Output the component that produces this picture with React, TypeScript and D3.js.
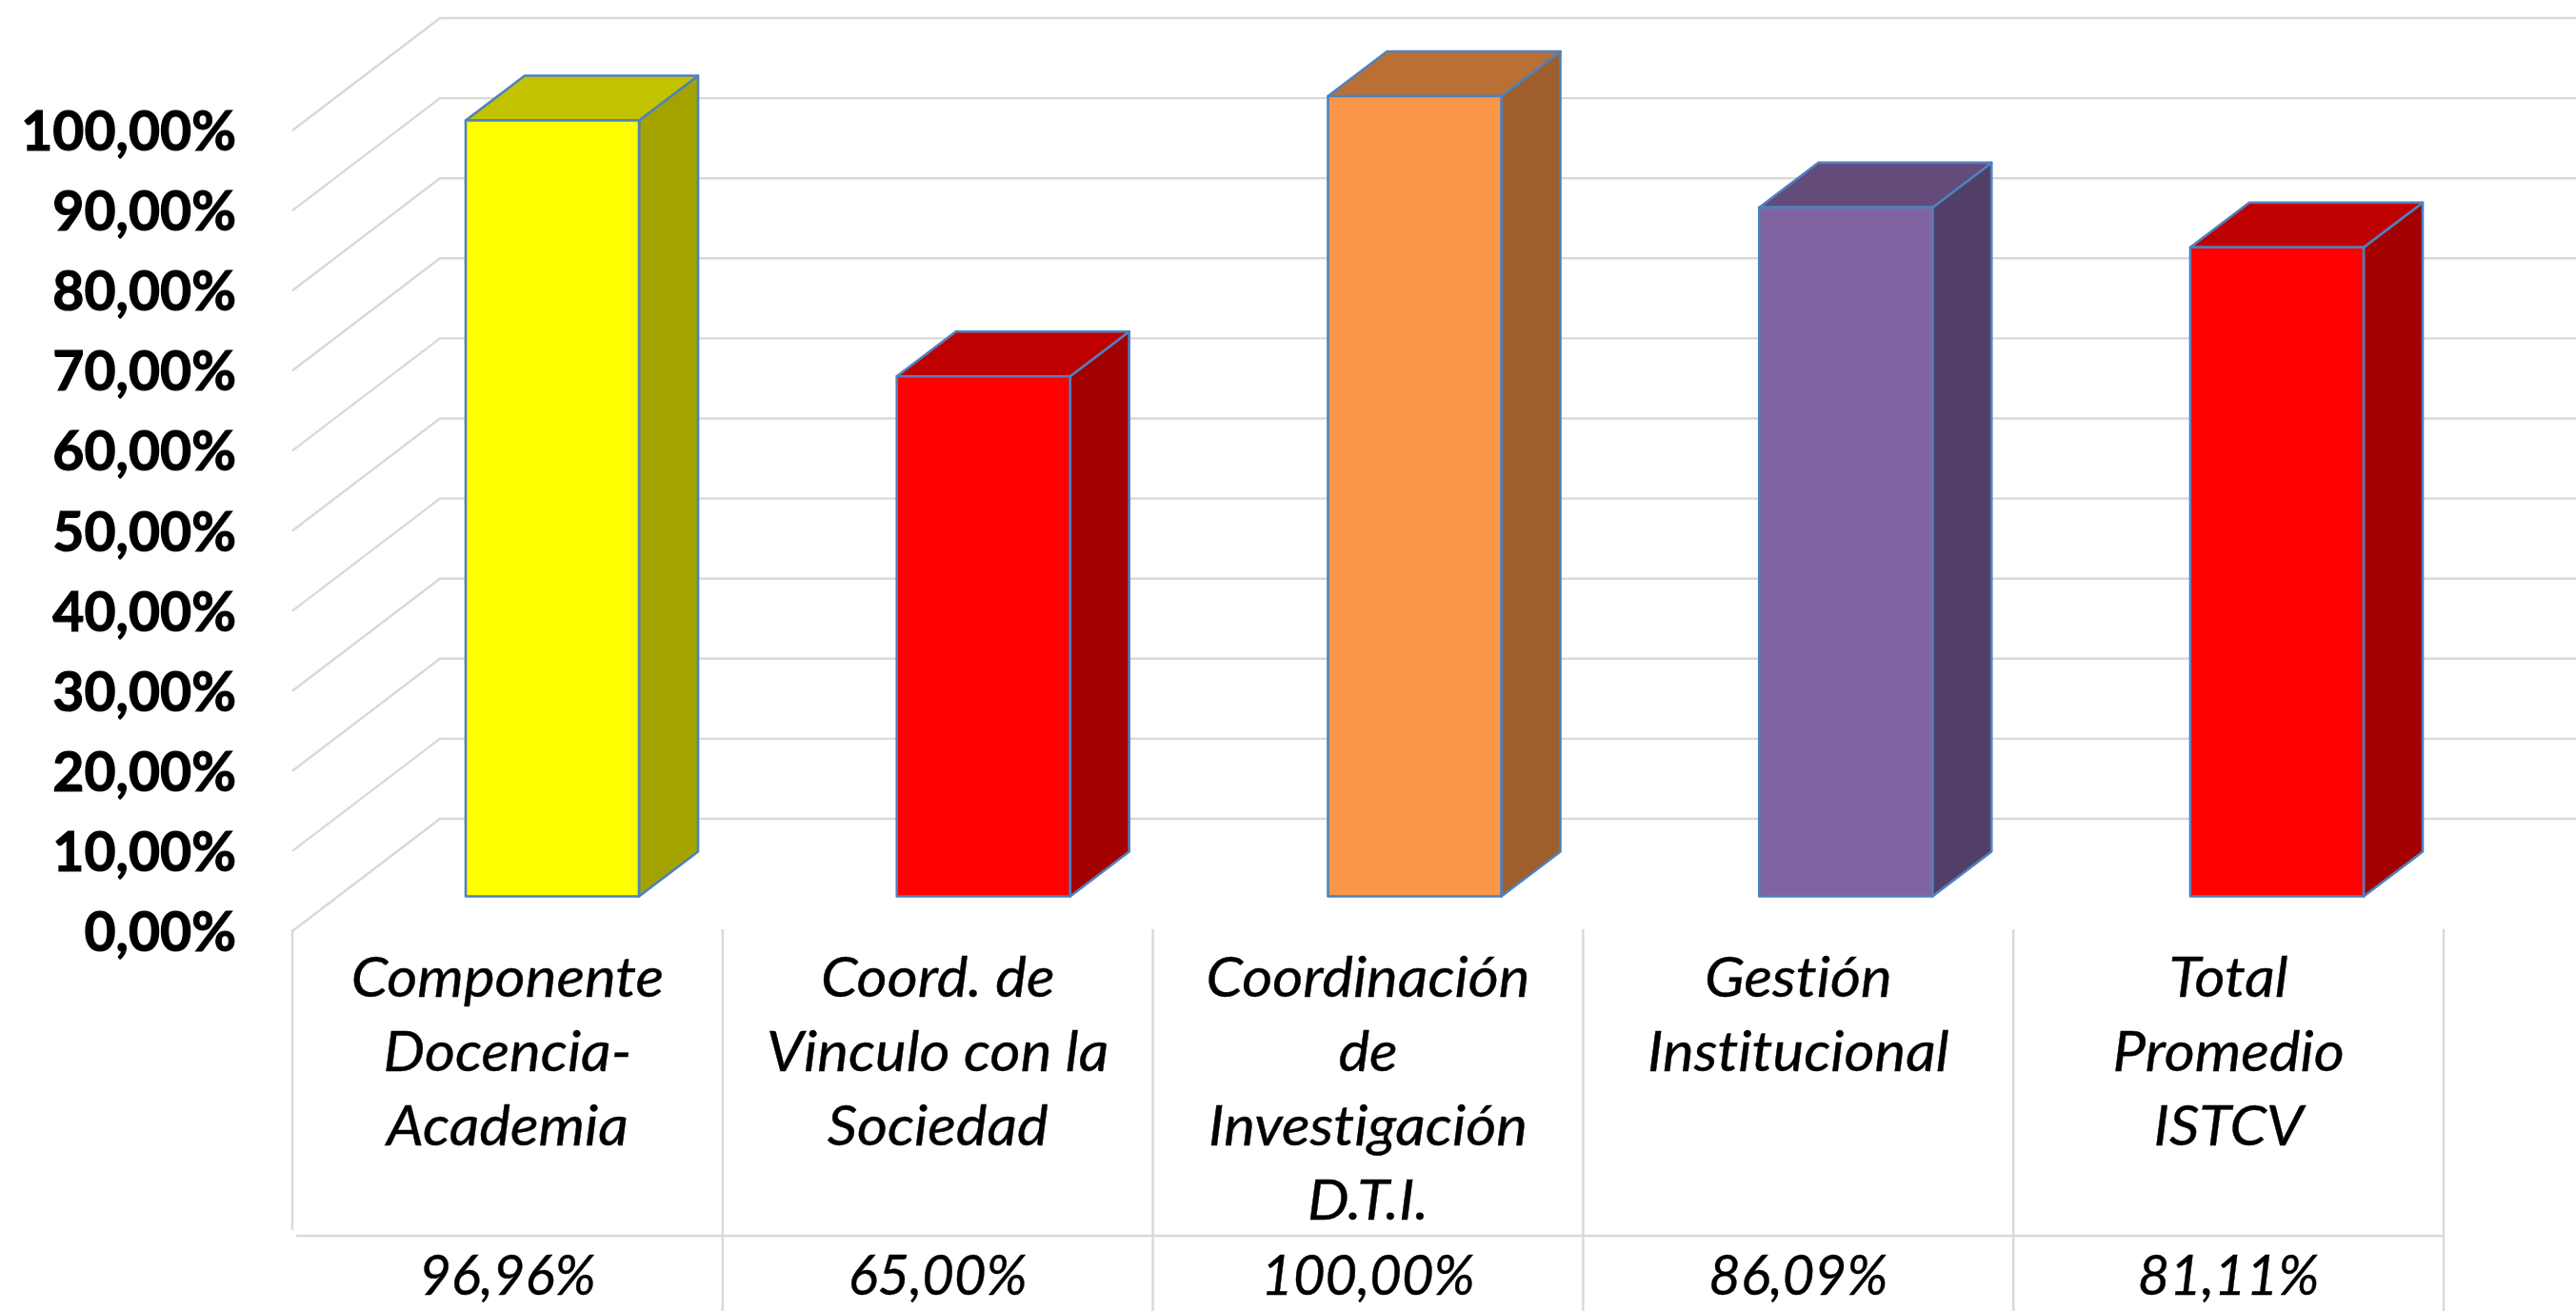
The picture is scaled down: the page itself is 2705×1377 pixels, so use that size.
import React from "react";
import * as d3 from "d3";

const WIDTH = 2705;
const HEIGHT = 1377;

const categories = ["Componente Docencia-Academia", "Coord. de Vinculo con la Sociedad", "Coordinación de Investigación D.T.I.", "Gestión Institucional", "Total Promedio ISTCV"];
const categoryLines = [
    ["Componente", "Docencia-", "Academia"],
    ["Coord. de", "Vinculo con la", "Sociedad"],
    ["Coordinación", "de", "Investigación", "D.T.I."],
    ["Gestión", "Institucional"],
    ["Total", "Promedio", "ISTCV"],
];
const values = [0.9696, 0.65, 1, 0.8609, 0.8111];
const valueLabels = ["96,96%", "65,00%", "100,00%", "86,09%", "81,11%"];
const ticks = [0, 0.1, 0.2, 0.3, 0.4, 0.5, 0.6, 0.7, 0.8, 0.9, 1];
const frontColors = ["#FFFF00", "#FF0000", "#FA9648", "#8064A2", "#FF0000"];
const sideColors = ["#A3A300", "#A30000", "#9E5F2C", "#523F67", "#A30000"];
const topColors = ["#C2C200", "#BF0000", "#BA7034", "#634B7A", "#BF0000"];

const GRID = "#D9D9D9";
const EDGE = "#4F81BD";
const FONT = "Lato, 'Noto Sans', sans-serif";

const WALL_DX = 155;
const WALL_DY = 118;
const BAR_DX = 62;
const BAR_DY = 47;
const BAR_WIDTH = 182;

const x = d3.scaleBand<string>().domain(categories).range([307, 2566]);
// the bars sit on the floor, a little wider apart than the table columns
const xBar = d3.scalePoint<string>().domain(categories).range([489, 2300]);
const yWall = d3.scaleLinear().domain([0, 1]).range([978, 137]);
const yBar = d3.scaleLinear().domain([0, 1]).range([941.5, 101]);
const fmt = d3.format(".2f");

export default function App() {
    const ref = React.useRef<SVGSVGElement>(null);

    React.useEffect(() => {
        const svg = d3.select(ref.current);
        svg.selectAll("*").remove();

        // back wall
        const grid = svg.append("g").attr("fill", "none").attr("stroke", GRID);
        grid.selectAll("path").data(ticks).enter().append("path")
            .attr("stroke-width", 2.4)
            .attr("d", d => `M307,${yWall(d)}L${307 + WALL_DX},${yWall(d) - WALL_DY}H${WIDTH}`);

        // y labels
        svg.append("g").attr("font-family", FONT).attr("font-weight", 700).attr("font-size", 58)
            .attr("text-anchor", "end").attr("stroke", "#000").attr("stroke-width", 1.2)
            .style("font-variant-ligatures", "none")
            .selectAll("text").data(ticks).enter().append("text")
            .attr("transform", d => `translate(248,${yWall(d) + 21}) scale(0.985,1)`)
            .text(d => fmt(d * 100).replace(".", ",") + "%");

        // bars
        const bars = svg.append("g").attr("stroke", EDGE).attr("stroke-width", 2.6).attr("stroke-linejoin", "round")
            .selectAll("g").data(categories).enter().append("g");
        const left = (c: string) => xBar(c)!;
        const top = (i: number) => yBar(values[i]);
        bars.append("path").attr("fill", (_, i) => sideColors[i])
            .attr("d", (c, i) => `M${left(c) + BAR_WIDTH},${top(i)}l${BAR_DX},${-BAR_DY}V${yBar(0) - BAR_DY}l${-BAR_DX},${BAR_DY}Z`);
        bars.append("path").attr("fill", (_, i) => topColors[i])
            .attr("d", (c, i) => `M${left(c)},${top(i)}l${BAR_DX},${-BAR_DY}h${BAR_WIDTH}l${-BAR_DX},${BAR_DY}Z`);
        bars.append("rect").attr("fill", (_, i) => frontColors[i])
            .attr("x", left).attr("y", (_, i) => top(i))
            .attr("width", BAR_WIDTH).attr("height", (_, i) => yBar(0) - top(i));

        // data table
        const table = svg.append("g").attr("stroke", GRID).attr("stroke-width", 2.4).attr("fill", "none");
        const edges = categories.map(c => x(c)!).concat(x.range()[1]);
        table.selectAll(".upper").data(edges).enter().append("line").attr("class", "upper")
            .attr("x1", d => d).attr("x2", d => d).attr("y1", 976).attr("y2", (_, i) => i === 0 ? 1292 : 1298);
        table.selectAll(".lower").data(edges.slice(1)).enter().append("line").attr("class", "lower")
            .attr("x1", d => d).attr("x2", d => d).attr("y1", 1298).attr("y2", HEIGHT);
        table.append("line").attr("x1", 311).attr("x2", x.range()[1]).attr("y1", 1298).attr("y2", 1298);

        const labels = svg.append("g").attr("font-family", FONT).attr("font-style", "italic").attr("font-size", 58)
            .attr("text-anchor", "middle").attr("stroke", "#000").attr("stroke-width", 0.4)
            .style("font-variant-ligatures", "none");
        categories.forEach((c, i) => {
            const cx = x(c)! + x.bandwidth() / 2;
            categoryLines[i].forEach((line, j) => {
                labels.append("text").attr("transform", `translate(${cx},${1047 + j * 78}) scale(1.065,1)`).text(line);
            });
            labels.append("text").attr("x", cx).attr("y", 1360).text(valueLabels[i]);
        });
    }, []);

    return <svg ref={ref} width={WIDTH} height={HEIGHT} viewBox={`0 0 ${WIDTH} ${HEIGHT}`}
                style={{position: "absolute", left: 0, top: 0, background: "#fff"}}/>;
}
